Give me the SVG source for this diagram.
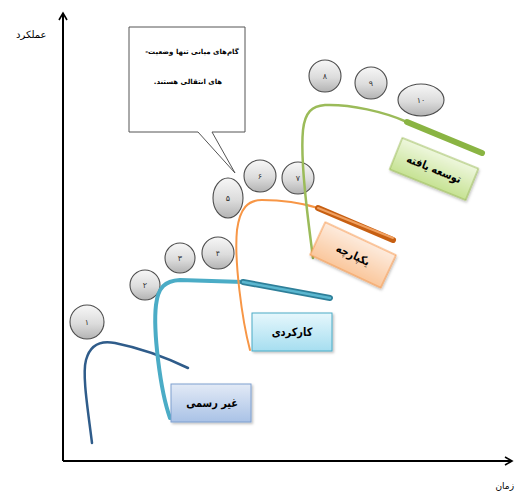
<svg xmlns="http://www.w3.org/2000/svg" width="516" height="495" viewBox="0 0 516 495">
  <defs>
    <marker id="arrow" viewBox="0 0 10 10" refX="8" refY="5" markerWidth="5" markerHeight="5" orient="auto" markerUnits="strokeWidth">
      <path d="M1,1 L8,5 L1,9" fill="none" stroke="#000" stroke-width="1.6"/>
    </marker>
    <linearGradient id="gCircle" x1="0" y1="0" x2="0" y2="1">
      <stop offset="0" stop-color="#f7f7f7"/>
      <stop offset="0.55" stop-color="#dcdcdc"/>
      <stop offset="1" stop-color="#b3b3b3"/>
    </linearGradient>
    <linearGradient id="gBlue" x1="0" y1="0" x2="0" y2="1">
      <stop offset="0" stop-color="#e2eaf6"/>
      <stop offset="1" stop-color="#a9c2e6"/>
    </linearGradient>
    <linearGradient id="gCyan" x1="0" y1="0" x2="0" y2="1">
      <stop offset="0" stop-color="#e6f7fc"/>
      <stop offset="1" stop-color="#a6def0"/>
    </linearGradient>
    <linearGradient id="gPeach" x1="0" y1="0" x2="0" y2="1">
      <stop offset="0" stop-color="#fdebdd"/>
      <stop offset="1" stop-color="#fac79c"/>
    </linearGradient>
    <linearGradient id="gGreen" x1="0" y1="0" x2="0" y2="1">
      <stop offset="0" stop-color="#eef7dd"/>
      <stop offset="1" stop-color="#c6e293"/>
    </linearGradient>
    <filter id="shadow" x="-20%" y="-20%" width="140%" height="140%">
      <feDropShadow dx="1.5" dy="1.5" stdDeviation="1" flood-color="#000" flood-opacity="0.25"/>
    </filter>
  </defs>
  <style>
    .fa { font-family: "DejaVu Sans", sans-serif; fill: #000; }
    .num { font-size: 8px; text-anchor: middle; dominant-baseline: central; fill: #333; }
    .lbl { font-size: 11.5px; font-weight: bold; text-anchor: middle; dominant-baseline: central; }
    .note { font-size: 7px; font-weight: bold; text-anchor: middle; direction: rtl; unicode-bidi: embed; }
    .circle { fill: url(#gCircle); stroke: #4d4d4d; stroke-width: 1.1; }
    .box { stroke-width: 1; filter: url(#shadow); }
    .axis { stroke: #000; stroke-width: 2; fill: none; marker-end: url(#arrow); }
  </style>

  <rect width="516" height="495" fill="#fff"/>

  <!-- axes -->
  <g id="axes">
    <line class="axis" x1="63" y1="461" x2="63" y2="13"/>
    <line class="axis" x1="63" y1="461" x2="512" y2="461"/>
    <text class="fa" x="16" y="38" font-size="10">عملکرد</text>
    <text class="fa" x="514" y="489" font-size="9" text-anchor="end">زمان</text>
  </g>

  <!-- callout -->
  <g id="callout">
    <path d="M129,27 L245,27 L245,132 L212,132 L235,173 L198,132 L129,132 Z" fill="#fff" stroke="#555" stroke-width="1"/>
    <text class="fa note" x="192" y="54">گام‌های میانی تنها وضعیت-</text>
    <text class="fa note" x="188" y="84">های انتقالی هستند.</text>
  </g>

  <!-- numbered stages -->
  <g id="s1"><circle class="circle" cx="87" cy="322" r="17"/><text class="fa num" x="87" y="322">۱</text></g>
  <g id="s2"><circle class="circle" cx="145" cy="285" r="15"/><text class="fa num" x="145" y="285">۲</text></g>
  <g id="s3"><circle class="circle" cx="180" cy="258" r="15"/><text class="fa num" x="180" y="258">۳</text></g>
  <g id="s4"><circle class="circle" cx="218" cy="253" r="16"/><text class="fa num" x="218" y="253">۴</text></g>
  <g id="s5"><ellipse class="circle" cx="228" cy="198" rx="15" ry="20"/><text class="fa num" x="228" y="198">۵</text></g>
  <g id="s6"><circle class="circle" cx="260" cy="176" r="16"/><text class="fa num" x="260" y="176">۶</text></g>
  <g id="s7"><circle class="circle" cx="298" cy="178" r="16"/><text class="fa num" x="298" y="178">۷</text></g>
  <g id="s8"><circle class="circle" cx="325" cy="76" r="16"/><text class="fa num" x="325" y="76">۸</text></g>
  <g id="s9"><circle class="circle" cx="371" cy="83" r="16"/><text class="fa num" x="371" y="83">۹</text></g>
  <g id="s10"><ellipse class="circle" cx="421" cy="100" rx="23" ry="16"/><text class="fa num" x="421" y="100">۱۰</text></g>

  <!-- growth curves -->
  <g id="connectors" fill="none" stroke-linecap="round">
    <path d="M92,443 C88,410 82,375 86,360 C90,345 100,340 115,343 C140,348 165,357 188,368" stroke="#2f5c8a" stroke-width="2.5"/>
    <path d="M170,418 C160,390 153,330 156,305 C158,287 165,281 180,280 L243,282" stroke="#4bacc6" stroke-width="4"/>
    <line x1="243" y1="282" x2="330" y2="298" stroke="#2e7f99" stroke-width="6"/>
    <line x1="243" y1="282" x2="330" y2="298" stroke="#5bb7d0" stroke-width="2.5"/>
    <path d="M250,350 C242,320 234,260 237,230 C240,208 248,200 262,200 C285,200 305,204 318,208" stroke="#f79646" stroke-width="2"/>
    <line x1="318" y1="208" x2="393" y2="240" stroke="#c75f12" stroke-width="6"/>
    <line x1="318" y1="208" x2="393" y2="238" stroke="#f0a060" stroke-width="2"/>
    <path d="M313,258 C308,220 300,160 303,130 C305,112 312,106 325,105 C350,104 385,112 407,122" stroke="#9bbb59" stroke-width="2.5"/>
    <line x1="407" y1="122" x2="482" y2="153" stroke="#8ab443" stroke-width="6"/>
  </g>

  <!-- stage labels -->
  <g id="informal">
    <rect class="box" x="171" y="384" width="80" height="38" fill="url(#gBlue)" stroke="#7f9fcf"/>
    <text class="fa lbl" transform="translate(212,403) scale(0.85,1)">غیر رسمی</text>
  </g>
  <g id="functional">
    <rect class="box" x="252" y="313" width="80" height="38" fill="url(#gCyan)" stroke="#4bacc6"/>
    <text class="fa lbl" transform="translate(292,332) scale(0.85,1)">کارکردی</text>
  </g>
  <g id="integrated" transform="translate(353,255) rotate(25)">
    <rect class="box" x="-39" y="-18" width="78" height="36" fill="url(#gPeach)" stroke="#f79646"/>
    <text class="fa lbl" transform="scale(0.85,1)">یکپارچه</text>
  </g>
  <g id="developed" transform="translate(434,169) rotate(22)">
    <rect class="box" x="-41" y="-17" width="82" height="34" fill="url(#gGreen)" stroke="#9bbb59"/>
    <text class="fa lbl" transform="scale(0.85,1)">توسعه یافته</text>
  </g>
</svg>
